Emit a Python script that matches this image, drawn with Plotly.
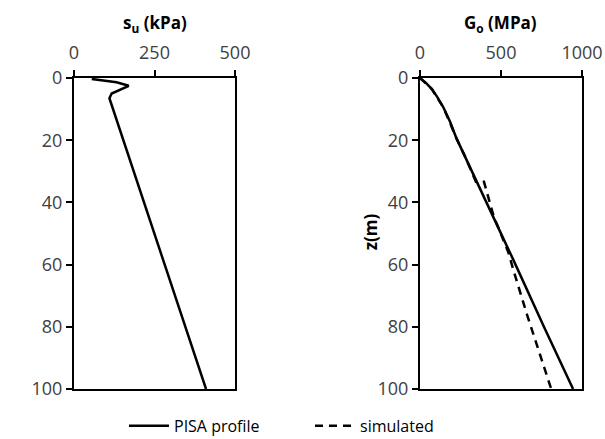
import plotly.graph_objects as go

# s_u profile (left panel)
su_depth = [0.3, 1.4, 2.5, 5.0, 6.5, 100]
su_kpa = [55, 132, 170, 117, 110, 410]

# G_o profiles (right panel)
g_pisa_depth = [0, 1.5, 3.5, 6, 9.4, 14, 19.5, 26, 33.4, 44, 58, 80, 100]
g_pisa_mpa = [0, 35, 72, 105, 144, 185, 226, 285, 350, 448, 572, 765, 945]

g_sim_depth = [0, 3.5, 9.4, 19.5, 26, 33.4, 33.4, 38, 44.5, 56, 62, 76, 100]
g_sim_mpa = [0, 72, 144, 226, 285, 345, 395, 420, 455, 545, 578, 660, 810]

su_ticks = [0, 250, 500]
g_ticks = [0, 500, 1000]
z_ticks = [0, 20, 40, 60, 80, 100]

W, H = 605, 439
L, R, T, B = 74, 582, 77.5, 389
PW, PH = R - L, B - T
FONT = "Open Sans"
TICKC = "#404040"

fig = go.Figure()
fig.add_trace(go.Scatter(x=su_kpa, y=su_depth, mode="lines", xaxis="x", yaxis="y",
                         line=dict(color="black", width=2.5), showlegend=False))
fig.add_trace(go.Scatter(x=g_pisa_mpa, y=g_pisa_depth, mode="lines", xaxis="x2", yaxis="y2",
                         name="PISA profile", line=dict(color="black", width=2.5)))
fig.add_trace(go.Scatter(x=g_sim_mpa, y=g_sim_depth, mode="lines", xaxis="x2", yaxis="y2",
                         name="simulated", line=dict(color="black", width=2.5, dash="8px,6px")))

def px_x(p):
    return (p - L) / PW

def px_y(p):
    return (B - p) / PH

axcommon = dict(showline=True, linecolor="black", linewidth=2, mirror=True,
                ticks="outside", ticklen=6, tickwidth=2, tickcolor="black",
                showgrid=False, zeroline=False, automargin=False,
                tickfont=dict(family=FONT, size=18, color=TICKC))

fig.update_layout(
    width=W, height=H,
    margin=dict(l=L, r=W - R, t=T, b=H - B, autoexpand=False),
    paper_bgcolor="white", plot_bgcolor="white",
    xaxis=dict(domain=[px_x(74), px_x(235)], range=[0, 500], side="top",
               tickvals=su_ticks, anchor="y", ticklabelstandoff=4, **axcommon),
    yaxis=dict(domain=[0, 1], range=[100, 0],
               tickvals=z_ticks, anchor="x", **axcommon),
    xaxis2=dict(domain=[px_x(420), px_x(582)], range=[0, 1000], side="top",
                tickvals=g_ticks, anchor="y2", ticklabelstandoff=4, **axcommon),
    yaxis2=dict(domain=[0, 1], range=[100, 0],
                tickvals=z_ticks, anchor="x2", **axcommon),
    legend=dict(orientation="h", x=px_x(124), xanchor="left",
                y=px_y(426), yanchor="middle", entrywidth=131, entrywidthmode="pixels",
                font=dict(family=FONT, size=16, color="black"), itemwidth=40,
                bgcolor="rgba(0,0,0,0)"),
    annotations=[
        dict(text="<b>s<sub>u</sub> (kPa)</b>", x=px_x(155), y=px_y(23), xref="paper", yref="paper",
             showarrow=False, xanchor="center", yanchor="middle",
             font=dict(family=FONT, size=17, color="black")),
        dict(text="<b>G<sub>o</sub> (MPa)</b>", x=px_x(500), y=px_y(23), xref="paper", yref="paper",
             showarrow=False, xanchor="center", yanchor="middle",
             font=dict(family=FONT, size=17, color="black")),
        dict(text="<b>z(m)</b>", x=px_x(370), y=px_y(232), xref="paper", yref="paper",
             showarrow=False, xanchor="center", yanchor="middle", textangle=-90,
             font=dict(family=FONT, size=17, color="black")),
    ],
)

fig.write_html("out.html")
